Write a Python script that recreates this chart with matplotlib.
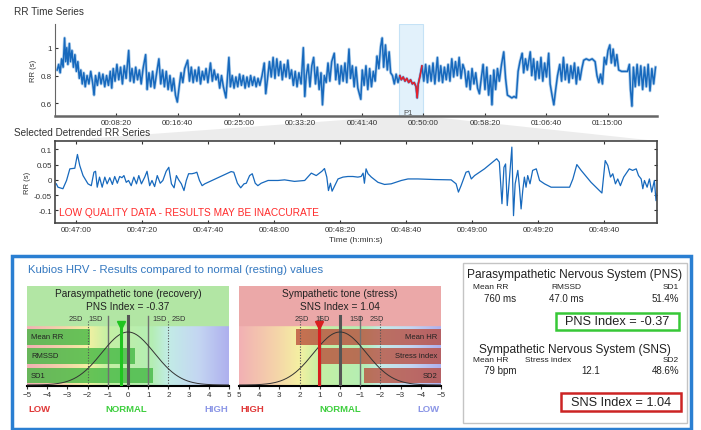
import numpy as np
import matplotlib.pyplot as plt
from matplotlib.patches import Rectangle, Polygon
from matplotlib.colors import LinearSegmentedColormap

W, H = 701, 431
plt.rcParams['font.family'] = ['Liberation Sans', 'DejaVu Sans']

BLUE = '#1769bd'
RED = '#e8202a'

# RR time series (time in minutes, RR in seconds)
rr_min = [0.3, 0.5, 0.7, 0.9, 1.1, 1.3, 1.45, 1.6, 1.75, 1.95, 2.1, 2.3, 2.5, 2.7, 2.9, 3.1,
          3.3, 3.5, 3.7, 3.9, 4.1, 4.35, 4.6, 4.85, 5.1, 5.3, 5.5, 5.75, 6.0, 6.25, 6.5, 6.75, 7.0, 7.25, 7.5, 7.7,
          7.9, 8.15, 8.4, 8.65, 8.9, 9.15, 9.4, 9.65, 10.0, 10.2,
          10.45, 10.7, 10.95, 11.2, 11.45, 11.7, 11.95, 12.3, 12.5, 12.75,
          13.0, 13.25, 13.5, 13.8, 14.1, 14.35,
          14.6, 14.85, 15.1, 15.35, 15.6, 15.85, 16.1, 16.35, 16.6, 16.85, 17.1,
          17.35, 17.6, 18.0, 18.25, 18.5, 18.75, 19.0, 19.25, 19.5, 19.75, 20.0, 20.25, 20.5, 20.75, 21.1, 21.35, 21.6, 21.85,
          22.1, 22.35, 22.6, 22.85, 23.2, 23.4, 23.6, 23.8, 24.05, 24.3, 24.55,
          24.8, 25.05, 25.3, 25.55, 25.8, 26.05, 26.3, 26.55, 26.8,
          27.05, 27.3, 27.55, 27.8, 28.1, 28.4, 28.6, 28.85,
          29.1, 29.35, 29.6, 29.85, 30.1, 30.35, 30.6, 30.85, 31.1, 31.35, 31.6, 31.85,
          32.1, 32.35, 32.6, 32.85, 33.1, 33.4, 33.7, 33.9, 34.1,
          34.35, 34.6, 34.85, 35.1, 35.35, 35.6, 35.85, 36.1, 36.3, 36.55,
          36.8, 37.05, 37.3, 37.55, 37.9, 38.1, 38.35, 38.6, 38.85, 39.1, 39.35, 39.6, 39.9, 40.1,
          40.35, 40.6, 40.85, 41.1, 41.5, 41.7, 41.95, 42.2, 42.45, 42.7, 42.95, 43.2, 43.45,
          43.7, 43.95, 44.2, 44.4, 44.6, 44.85, 45.1, 45.35, 45.55,
          45.8, 46.05, 46.3, 46.55,
          46.8, 47.0, 47.25, 47.5, 47.75, 48.0, 48.25, 48.5, 48.75, 49.0, 49.15, 49.3, 49.55, 49.8,
          50.05, 50.3, 50.55, 50.8, 51.05, 51.3, 51.55, 51.9, 52.1, 52.35, 52.6, 52.85, 53.1, 53.35, 53.6,
          53.85, 54.1, 54.35, 54.6, 54.85, 55.1, 55.35,
          55.6, 55.85, 56.1, 56.35, 56.6, 56.85, 57.1, 57.35, 57.6, 57.85,
          58.1, 58.35, 58.6, 58.85, 59.1, 59.3, 59.55, 59.8, 60.05,
          60.3, 60.6, 60.9, 61.15, 61.4, 61.7, 62.0, 62.3, 62.6,
          62.85, 63.1, 63.4, 63.6, 63.85, 64.1, 64.5, 64.7,
          64.95, 65.2, 65.45, 65.7, 65.95, 66.2, 66.45, 66.7, 67.0, 67.2,
          67.45, 67.7, 67.95, 68.2,
          68.5, 68.75, 69.0, 69.25, 69.5, 69.75, 70.0, 70.25, 70.5, 70.75, 71.0, 71.25, 71.5,
          71.75, 72.1, 72.5, 72.9, 73.3,
          73.55, 73.8, 74.05, 74.3,
          74.55, 74.8, 75.05, 75.3, 75.5, 75.75, 76.0, 76.25,
          76.5, 76.9, 77.3, 77.7,
          77.95, 78.1, 78.3, 78.5, 78.75, 79.0,
          79.25, 79.5, 79.75, 80.0, 80.25, 80.5, 80.75, 81.0, 81.25, 81.5]
rr_s = [0.84, 0.88, 0.82, 0.92, 0.86, 1.07, 0.90, 1.00, 0.88, 1.03, 0.90, 0.98, 0.86, 0.95, 0.83, 0.90,
        0.78, 0.84, 0.74, 0.82, 0.72, 0.80, 0.74, 0.83, 0.75, 0.66, 0.80, 0.73, 0.82, 0.74, 0.81, 0.72, 0.80, 0.73, 0.83, 0.71,
        0.85, 0.76, 0.88, 0.77, 0.86, 0.74, 0.87, 0.78, 0.98, 0.76,
        0.85, 0.75, 0.86, 0.77, 0.84, 0.74, 0.85, 0.95, 0.70, 0.82,
        0.72, 0.83, 0.71, 0.82, 0.92, 0.74,
        0.84, 0.72, 0.83, 0.70, 0.80, 0.69, 0.78, 0.66, 0.61, 0.72, 0.82,
        0.75, 0.85, 0.91, 0.76, 0.86, 0.75, 0.84, 0.76, 0.86, 0.74, 0.83, 0.77, 0.85, 0.75, 0.89, 0.76, 0.84, 0.77,
        0.81, 0.71, 0.80, 0.72, 0.64, 0.79, 0.93, 0.72, 0.80, 0.71, 0.79,
        0.72, 0.81, 0.73, 0.80, 0.71, 0.79, 0.72, 0.80, 0.73,
        0.79, 0.72, 0.78, 0.73, 0.80, 0.89, 0.67, 0.78,
        0.90, 0.79, 0.93, 0.78, 0.92, 0.80, 0.90, 0.77, 0.88, 0.79, 0.91, 0.78,
        0.84, 0.73, 0.83, 0.72, 0.82, 0.74, 1.00, 0.65, 0.80,
        0.88, 0.72, 0.87, 0.93, 0.74, 0.86, 0.70, 0.82, 0.59, 0.80,
        0.75, 0.89, 0.76, 0.90, 0.96, 0.77, 0.88, 0.74, 0.87, 0.76, 0.89, 0.75, 0.99, 0.78,
        0.87, 0.72, 0.86, 0.71, 0.63, 0.84, 0.73, 0.87, 0.70, 0.85, 0.72, 0.83, 0.76,
        0.94, 0.85, 1.01, 1.07, 0.86, 1.02, 0.84, 0.97, 0.82,
        0.80, 0.74, 0.81, 0.75,
        0.80, 0.77, 0.79, 0.76, 0.78, 0.75, 0.77, 0.74, 0.75, 0.72, 0.64, 0.74, 0.80, 0.87,
        0.76, 0.88, 0.75, 0.87, 0.76, 0.89, 0.74, 0.93, 0.76, 0.87, 0.75, 0.86, 0.77, 0.88, 0.76,
        0.92, 0.79, 0.90, 0.80, 0.93, 0.78, 0.88,
        0.84, 0.72, 0.83, 0.70, 0.85, 0.74, 0.82, 0.71, 0.67, 0.78,
        0.88, 0.70, 0.86, 0.66, 0.80, 0.59, 0.84, 0.70, 0.85,
        0.76, 0.88, 0.97, 0.78, 0.66, 0.65, 0.64, 0.65, 0.64,
        0.83, 0.90, 0.96, 0.82, 0.92, 0.84, 0.97, 0.80,
        0.92, 0.77, 0.90, 0.78, 0.93, 0.76, 0.89, 0.79, 0.96, 0.74,
        0.66, 0.59, 0.70, 0.80,
        0.88, 0.76, 0.93, 0.77, 0.88, 0.75, 0.87, 0.78, 0.89, 0.74, 0.86, 0.77, 0.85,
        0.91, 0.92, 0.91, 0.92, 0.90,
        0.80, 0.75, 0.81, 0.74,
        0.93, 0.88, 0.98, 1.02, 0.89, 0.99, 0.87, 0.95,
        0.84, 0.83, 0.83, 0.83,
        0.88, 0.70, 0.58, 0.86, 0.72, 0.88,
        0.73, 0.87, 0.70, 0.86, 0.72, 0.88, 0.69, 0.85, 0.74, 0.86]
rr_ticks_s = [500, 1000, 1500, 2000, 2500, 3000, 3500, 4000, 4500]
p1_s = [2805, 3000]

# selected detrended RR series (time in seconds, RR in seconds)
det_t = [2813.9, 2814.4, 2815.9, 2817.0, 2818.0, 2819.5, 2820.3, 2821.0, 2822.0, 2823.5, 2824.5, 2825.3,
         2825.8, 2826.3, 2827.0, 2827.8, 2828.6, 2829.3, 2830.1, 2830.9, 2831.6, 2832.4, 2833.1, 2833.8,
         2834.4, 2835.1, 2835.8, 2836.6, 2837.4, 2838.2, 2838.9, 2839.7, 2840.7, 2841.4, 2842.2, 2842.9,
         2843.7, 2844.5, 2845.4, 2846.2, 2847.2, 2848.0, 2848.8, 2849.6, 2850.3, 2851.0, 2851.8, 2852.6,
         2853.3, 2854.0, 2855.0, 2855.8, 2856.5, 2857.3, 2858.1, 2858.9, 2866.9, 2867.7, 2868.8, 2869.8,
         2870.8, 2871.5, 2872.5, 2873.3, 2874.2, 2875.0, 2876.0, 2878.1, 2881.1, 2883.1, 2886.1, 2889.2,
         2891.2, 2892.7, 2894.4, 2895.2, 2895.9, 2896.4, 2897.0, 2897.5, 2898.3, 2899.3, 2900.8, 2902.3,
         2903.8, 2905.3, 2906.3, 2906.9, 2907.3, 2907.8, 2908.4, 2909.4, 2911.4, 2913.4, 2915.4, 2918.5,
         2920.5, 2923.5, 2928.6, 2933.6, 2935.1, 2935.8, 2936.6, 2938.1, 2938.9, 2939.7, 2940.7, 2943.7,
         2947.4, 2948.2, 2949.0, 2949.6, 2950.1, 2950.6, 2951.3, 2952.0, 2952.5, 2953.0, 2953.8, 2954.3,
         2954.8, 2955.3, 2955.8, 2956.3, 2956.8, 2957.5, 2958.3, 2959.4, 2960.4, 2961.9, 2963.9, 2969.5,
         2970.5, 2971.7, 2973.0, 2976.0, 2979.3, 2980.3, 2981.1, 2981.9, 2982.6, 2983.4, 2984.1, 2984.9,
         2985.9, 2987.6, 2988.6, 2989.7, 2990.4, 2991.2, 2991.7, 2992.2, 2993.0, 2993.7, 2994.4, 2995.2,
         2995.7, 2996.0]
det_v = [-0.013, -0.024, -0.029, -0.002, 0.036, 0.038, 0.083, 0.047, 0.014, -0.013, -0.019, 0.025,
         0.028, -0.024, 0.009, -0.024, 0.009, -0.013, 0.007, -0.015, 0.011, -0.011, 0.011, 0.007,
         0.014, -0.008, -0.002, -0.019, 0.009, -0.013, 0.014, -0.013, 0.009, 0.028, -0.019, -0.002,
         -0.022, 0.014, -0.011, -0.002, 0.028, 0.041, -0.013, -0.026, 0.014, 0.0, -0.013, -0.035,
         -0.002, 0.020, 0.020, 0.022, 0.025, -0.002, -0.019, -0.013, 0.027, 0.025, -0.011, -0.026,
         -0.013, -0.011, 0.014, 0.020, -0.011, -0.019, -0.011, -0.002, -0.002, 0.0, -0.005, -0.002,
         0.022, 0.014, 0.028, 0.037, 0.009, -0.035, -0.011, -0.037, -0.019, 0.003, 0.009, 0.011,
         0.011, 0.009, 0.011, 0.022, -0.011, 0.036, 0.020, 0.009, -0.008, -0.015, -0.013, -0.002,
         0.003, 0.003, 0.001, 0.0, -0.013, -0.040, -0.019, 0.025, 0.028, 0.003, 0.014, 0.036,
         0.069, 0.058, -0.078, 0.041, 0.052, -0.084, 0.009, 0.107, -0.117, -0.013, 0.031, -0.024,
         -0.095, -0.035, 0.009, -0.024, 0.014, -0.013, 0.031, 0.036, -0.002, -0.013, -0.024, -0.024,
         0.003, 0.050, 0.031, -0.008, -0.043, 0.063, 0.047, 0.009, 0.020, -0.013, 0.003, -0.019,
         0.009, 0.036, 0.031, 0.036, 0.014, 0.003, -0.029, -0.002, -0.024, 0.003, -0.040, -0.002,
         -0.068, -0.046]
det_ticks_s = [2820, 2840, 2860, 2880, 2900, 2920, 2940, 2960, 2980]

# normal value comparison (z-scores)
pns_names = ['Mean RR', 'RMSSD', 'SD1']
pns_z = [-1.88, 0.35, 1.25]
pns_index = -0.37
sns_names = ['Mean HR', 'Stress index', 'SD2']
sns_z = [2.2, 0.95, -1.2]
sns_index = 1.04
norm_sd = 1.3

pns_head = ['Mean RR', 'RMSSD', 'SD1']
pns_vals = ['760 ms', '47.0 ms', '51.4%']
sns_head = ['Mean HR', 'Stress index', 'SD2']
sns_vals = ['79 bpm', '12.1', '48.6%']


def hms(s):
    s = int(round(s))
    return '%02d:%02d:%02d' % (s // 3600, s % 3600 // 60, s % 60)


def box(x0, y0, x1, y1):
    return [x0 / W, 1 - y1 / H, (x1 - x0) / W, (y1 - y0) / H]


fig = plt.figure(figsize=(W / 100, H / 100), dpi=100)


def ftext(x, y, s, **kw):
    kw.setdefault('va', 'center')
    fig.text(x / W, 1 - y / H, s, **kw)


def frect(x0, y0, x1, y1, **kw):
    fig.add_artist(Rectangle((x0 / W, 1 - y1 / H), (x1 - x0) / W, (y1 - y0) / H,
                             transform=fig.transFigure, **kw))


# zoom wedge from P1 to the detrended plot
fig.add_artist(Polygon([(399 / W, 1 - 117 / H), (423 / W, 1 - 117 / H), (657 / W, 1 - 142 / H), (55 / W, 1 - 142 / H)],
                       closed=True, transform=fig.transFigure, facecolor='#ececec', edgecolor='none', zorder=0))

# ---- RR time series
ax1 = fig.add_axes(box(55, 25, 657, 117))
ax1.patch.set_alpha(0)
t_s = np.array(rr_min) * 60
rr = np.array(rr_s)
ax1.axvspan(p1_s[0], p1_s[1], facecolor='#e2f1fb', edgecolor='#c5e2f6', lw=0.8, zorder=0)
ax1.plot(t_s, rr, color='#7fb1e0', lw=2.2, alpha=0.6)
ax1.plot(t_s, rr, color=BLUE, lw=1.1)
sel = (t_s >= p1_s[0]) & (t_s <= p1_s[1])
ax1.plot(t_s[sel], rr[sel], color=RED, lw=1.1)
ax1.text(p1_s[0] + 30, 0.525, 'P1', fontsize=5.5, color='#555555')
ax1.set_xlim(0, 4902)
ax1.set_ylim(0.51, 1.17)
ax1.set_xticks(rr_ticks_s)
ax1.set_xticklabels([hms(s) for s in rr_ticks_s])
ax1.set_yticks([0.6, 0.8, 1.0])
ax1.set_yticklabels(['0.6', '0.8', '1'])
for s in ['top', 'right']:
    ax1.spines[s].set_visible(False)
ax1.spines['left'].set_color('#666666')
ax1.spines['bottom'].set_color('#666666')
ax1.spines['bottom'].set_linewidth(1.8)
ax1.tick_params(direction='in', length=2, labelsize=5.8, colors='#333333', pad=2)
ax1.set_ylabel('RR (s)', fontsize=5.5, color='#333333', labelpad=3)
ftext(14, 12, 'RR Time Series', fontsize=7.2, color='#333333')

# ---- detrended RR series
ax2 = fig.add_axes(box(55, 142, 657, 224))
ax2.plot(det_t, det_v, color=BLUE, lw=0.9)
ax2.set_xlim(2813.5, 2996)
ax2.set_ylim(-0.141, 0.127)
ax2.set_xticks(det_ticks_s)
ax2.set_xticklabels([hms(s) for s in det_ticks_s])
ax2.set_yticks([-0.1, -0.05, 0, 0.05, 0.1])
ax2.set_yticklabels(['-0.1', '-0.05', '0', '0.05', '0.1'])
for s in ax2.spines.values():
    s.set_color('#444444')
    s.set_linewidth(1.2)
ax2.tick_params(direction='in', length=2, labelsize=5.8, colors='#333333', pad=2, right=True, top=True)
ax2.set_ylabel('RR (s)', fontsize=5.5, color='#333333', labelpad=2)
ax2.set_xlabel('Time (h:min:s)', fontsize=6, color='#333333', labelpad=2)
ax2.text(0.006, 0.1, 'LOW QUALITY DATA - RESULTS MAY BE INACCURATE', transform=ax2.transAxes,
         fontsize=7.3, color='#ff2b2b')
ftext(14, 133, 'Selected Detrended RR Series', fontsize=7.2, color='#333333')

# ---- results panel
frect(12, 257, 691, 430, facecolor='white', edgecolor='#2a7fd2', lw=2.5, zorder=0)
ftext(28, 270, 'Kubios HRV - Results compared to normal (resting) values', fontsize=8.2, color='#3478c0')

grad_cmap = LinearSegmentedColormap.from_list('grad', [
    (0.0, '#f2b0b4'), (0.2, '#f5d8a8'), (0.3, '#f4f0a2'), (0.4, '#c4f0a4'),
    (0.62, '#b4eeb4'), (0.7, '#c2ece6'), (0.85, '#c4d6f2'), (1.0, '#aeb0ee')])
gradient = np.linspace(0, 1, 256).reshape(1, -1)


def gauge(rect, reverse, head_bg, title, sub, names, z, zcolor, zalpha, idx, mcolor, words, wcolors):
    ax = fig.add_axes(rect)
    ext = (5, -5, 0, 61) if reverse else (-5, 5, 0, 61)
    ax.imshow(gradient, extent=ext, aspect='auto', cmap=grad_cmap, zorder=0)
    ax.axhspan(61, 100, color=head_bg, zorder=0)
    ax.set_xlim((5, -5) if reverse else (-5, 5))
    ax.set_ylim(0, 100)
    ys = [49, 30, 10.5]
    hs = [16, 16, 15]
    for y, h, v, n in zip(ys, hs, z, names):
        ax.barh(y, v + 5, left=-5, height=h, color=zcolor, alpha=zalpha, zorder=2)
        ax.text(-4.8, y, n, ha='right' if reverse else 'left', va='center',
                fontsize=5.5, color='#222222', zorder=5)
    xs = np.linspace(-5, 5, 200)
    ax.plot(xs, 53 * np.exp(-xs ** 2 / (2 * norm_sd ** 2)) + 1, color='#333333', lw=0.7, zorder=4)
    ax.plot([0, 0], [0, 70], color='#555555', lw=2.2, zorder=3)
    for v in (-1, 1):
        ax.plot([v, v], [0, 70], color='#707070', lw=1.0, zorder=3)
    for v in (-2, 2):
        ax.plot([v, v], [0, 66], color='#555555', lw=0.8, ls=(0, (1, 1.5)), zorder=3)
    sgn = -1 if reverse else 1
    for v, lab in ((-2.23, '2SD'), (-1.24, '1SD')):
        ax.text(v * sgn, 66, lab, ha='right' if not reverse else 'left', fontsize=5.3, color='#333333')
    for v, lab in ((1.19, '1SD'), (2.18, '2SD')):
        ax.text(v * sgn, 66, lab, ha='left' if not reverse else 'right', fontsize=5.3, color='#333333')
    ax.plot([idx, idx], [0, 60], color=mcolor, lw=2.2, zorder=6)
    ax.plot([idx], [61], marker='v', ms=6, color=mcolor, zorder=7)
    ax.text(0, 93, title, ha='center', va='center', fontsize=7.3, color='#222222')
    ax.text(0, 80, sub, ha='center', va='center', fontsize=7.3, color='#222222')
    ax.set_xticks(range(-5, 6))
    ax.set_xticklabels([str(v).replace('-', '\u2212') for v in range(-5, 6)])
    ax.set_yticks([])
    for s in ['top', 'right', 'left']:
        ax.spines[s].set_visible(False)
    ax.spines['bottom'].set_linewidth(1.5)
    ax.tick_params(axis='x', length=2, labelsize=5.8, pad=1.5, colors='#333333')
    for px, w, c in zip(words[0], words[1], wcolors):
        ftext(px, 410, w, ha='center', fontsize=6.8, color=c, fontweight='bold')
    return ax


gauge(box(27, 287, 229, 387), False, '#b2e6a4', 'Parasympathetic tone (recovery)',
      'PNS Index = %.2f' % pns_index, pns_names, pns_z, '#45b845', 0.8, pns_index, '#1fc41f',
      ([39, 126, 216], ['LOW', 'NORMAL', 'HIGH']), ['#e03838', '#3fcf3f', '#8a95e6'])
gauge(box(239, 287, 441, 387), True, '#eba8a8', 'Sympathetic tone (stress)',
      'SNS Index = %.2f' % sns_index, sns_names, sns_z, '#b84636', 0.75, sns_index, '#d81f1f',
      ([252, 340, 428], ['HIGH', 'NORMAL', 'LOW']), ['#e03838', '#3fcf3f', '#8a95e6'])

# ---- summary box
frect(463, 264, 687, 424, facecolor='white', edgecolor='#c4c4c4', lw=1.0, zorder=1)
ftext(575, 275, 'Parasympathetic Nervous System (PNS)', ha='center', fontsize=8.6, color='#222222')
ftext(491, 288, pns_head[0], ha='center', fontsize=6, color='#222222')
ftext(566, 288, pns_head[1], ha='center', fontsize=6, color='#222222')
ftext(679, 288, pns_head[2], ha='right', fontsize=6, color='#222222')
ftext(500, 299, pns_vals[0], ha='center', fontsize=7, color='#222222')
ftext(566, 299, pns_vals[1], ha='center', fontsize=7, color='#222222')
ftext(679, 299, pns_vals[2], ha='right', fontsize=7, color='#222222')
frect(556, 314, 679, 331, facecolor='white', edgecolor='#37c837', lw=1.8, zorder=2)
ftext(617.5, 322.5, 'PNS Index = %.2f' % pns_index, ha='center', fontsize=9.2, color='#222222', zorder=3)

ftext(575, 350, 'Sympathetic Nervous System (SNS)', ha='center', fontsize=8.6, color='#222222')
ftext(491, 361, sns_head[0], ha='center', fontsize=6, color='#222222')
ftext(548, 361, sns_head[1], ha='center', fontsize=6, color='#222222')
ftext(679, 361, sns_head[2], ha='right', fontsize=6, color='#222222')
ftext(500, 371, sns_vals[0], ha='center', fontsize=7, color='#222222')
ftext(600, 371, sns_vals[1], ha='right', fontsize=7, color='#222222')
ftext(679, 371, sns_vals[2], ha='right', fontsize=7, color='#222222')
frect(561, 394, 681, 412, facecolor='white', edgecolor='#cc2424', lw=1.8, zorder=2)
ftext(621, 403.5, 'SNS Index = %.2f' % sns_index, ha='center', fontsize=9.2, color='#222222', zorder=3)

fig.savefig('out.png', dpi=100)
